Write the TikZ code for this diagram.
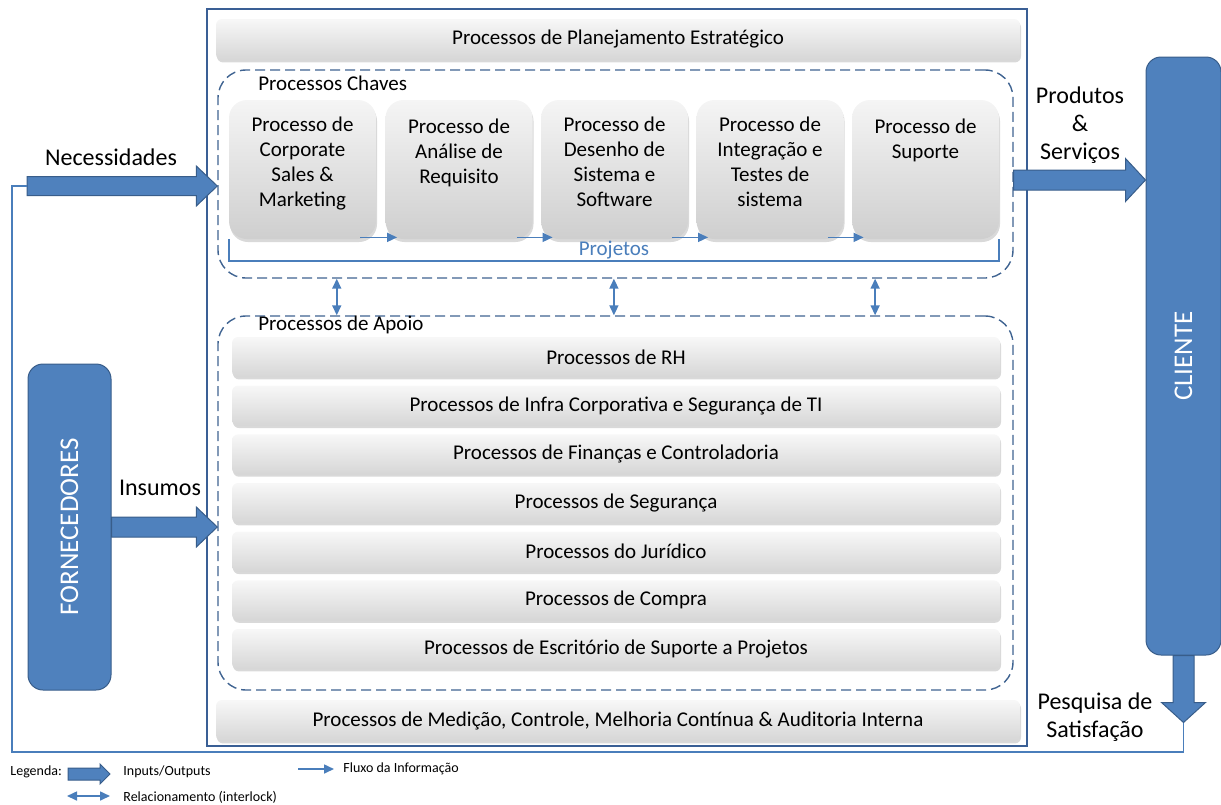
\documentclass[tikz,border=0pt]{standalone}
\usepackage{fontspec}
\setmainfont{Carlito}
\usetikzlibrary{arrows.meta,calc,shadows}

\definecolor{boxblue}{HTML}{4F81BD}
\definecolor{edgeblue}{HTML}{385D8A}
\definecolor{lineblue}{HTML}{4A7EBB}
\definecolor{dashblue}{HTML}{3F6391}
\definecolor{frameblue}{HTML}{3A5F95}

% fat block arrow pointing right: start, tip, half shaft, half head, head length
\newcommand{\bigarrowright}[5]{%
  \path[fatarrow] let \p1=#1, \p2=#2 in
    (\x1,\y1+#3) -- (\x2-#5,\y1+#3) -- (\x2-#5,\y1+#4) -- (\x2,\y1)
    -- (\x2-#5,\y1-#4) -- (\x2-#5,\y1-#3) -- (\x1,\y1-#3) -- cycle;}

\begin{document}
\begin{tikzpicture}[
    x=0.5pt, y=-0.5pt, % pixel grid of the slide
    >={Triangle[length=5pt,width=4.5pt]}, % arrow head style
    font=\fontsize{10.5}{12.5}\selectfont,
    fatarrow/.style={fill=boxblue, draw=edgeblue, line width=0.5pt},
    actor/.style={fill=boxblue, draw=edgeblue, line width=0.5pt,
        rounded corners=7.5pt, text=white, font=\fontsize{13.5}{15}\selectfont},
    group/.style={draw=dashblue, line width=0.7pt,
        dash pattern=on 5pt off 2.5pt, rounded corners=14pt},
    keybox/.style={rounded corners=9pt, top color=gray!8, bottom color=gray!38,
        minimum width=73.5pt, minimum height=69.5pt,
        drop shadow={shadow xshift=0.5pt, shadow yshift=-1.5pt, opacity=0.3}},
    procbar/.style={rounded corners=3pt, top color=gray!6, bottom color=gray!32,
        minimum height=20pt,
        drop shadow={shadow xshift=0.5pt, shadow yshift=-1.2pt, opacity=0.3}},
    flow/.style={lineblue, line width=0.8pt, ->},
    interlock/.style={lineblue, line width=0.8pt, <->},
    outlabel/.style={font=\fontsize{12}{14}\selectfont, align=center},
    legendtext/.style={font=\fontsize{7}{8}\selectfont, inner sep=1pt, anchor=west}
  ]
\useasboundingbox (0,0) rectangle (1221,804);

% organisation frame and process groups
\node[draw=frameblue, line width=0.8pt, minimum width=410pt, minimum height=368.5pt] (org) at (617,377.5) {};
\node[group, minimum width=397.5pt, minimum height=104pt] (chaves) at (615.5,174) {};
\node[group, minimum width=397.5pt, minimum height=187pt] (apoio) at (615.5,503) {};
\node[anchor=west] (chavesLbl) at ([xshift=17pt,yshift=-7pt]chaves.north west) {Processos Chaves};
\node[anchor=west] (apoioLbl) at ([xshift=17pt,yshift=-5pt]apoio.north west) {Processos de Apoio};

\node[procbar, minimum width=402pt, minimum height=20.5pt] (plan) at (618,39.5) {Processos de Planejamento Estratégico};
\node[procbar, minimum width=402pt, minimum height=20.5pt] (medicao) at (618,720.5) {Processos de Medição, Controle, Melhoria Contínua \& Auditoria Interna};

% key processes
\node[keybox, label={[anchor=north, yshift=-5pt, align=center]north:{Processo de\\Corporate\\Sales \&\\Marketing}}] (k1) at (302.5,169.5) {};
\node[keybox, label={[anchor=north, yshift=-6pt, align=center]north:{Processo de\\Análise de\\Requisito}}] (k2) at (459,169.5) {};
\node[keybox, label={[anchor=north, yshift=-5pt, align=center]north:{Processo de\\Desenho de\\Sistema e\\Software}}] (k3) at (614.5,169.5) {};
\node[keybox, label={[anchor=north, yshift=-5pt, align=center]north:{Processo de\\Integração e\\Testes de\\sistema}}] (k4) at (770,169.5) {};
\node[keybox, label={[anchor=north, yshift=-6pt, align=center]north:{Processo de\\Suporte}}] (k5) at (925.5,169.5) {};

\foreach \a/\b in {k1/k2,k2/k3,k3/k4,k4/k5}
  \draw[flow] ([xshift=-8pt,yshift=1pt]\a.south east) -- ([xshift=6pt,yshift=1pt]\b.south west);

\draw[lineblue, line width=1pt] (k1.south west) -- ++(0,22) coordinate (projL)
  -- (projL -| k5.south east) node[midway, above=-2.5pt, text=lineblue] (projLbl) {Projetos}
  -- (k5.south east);

% support processes
\foreach \txt [count=\i from 0] in {Processos de RH,
    Processos de Infra Corporativa e Segurança de TI,
    Processos de Finanças e Controladoria,
    Processos de Segurança,
    Processos do Jurídico,
    Processos de Compra,
    Processos de Escritório de Suporte a Projetos}
  \node[procbar, minimum width=384pt] (sup\i) at (616,{357+48.67*\i}) {\txt};

% interlock between key and support processes
\foreach \f in {0.15,0.498,0.826}
  \draw[interlock] ($(chaves.south west)!\f!(chaves.south east)$) coordinate (il)
    -- (il |- apoio.north);

% suppliers and client
\node[actor, minimum width=41.5pt, minimum height=163pt] (forn) at (69.5,527) {\rotatebox{90}{FORNECEDORES}};
\node[actor, minimum width=37.5pt, minimum height=299pt] (cliente) at (1183.5,356) {\rotatebox{90}{CLIENTE}};

\coordinate (needsIn) at (27,186);
\coordinate (prodOut) at ([yshift=-3pt]chaves.east);
\coordinate (satTip) at ([yshift=-33.5pt]cliente.south);
\coordinate (loopCorner) at (12,752);

\bigarrowright{(needsIn)}{(chaves.west |- needsIn)}{4.75pt}{10pt}{10.5pt}
\bigarrowright{(forn.east)}{(apoio.west |- forn.east)}{5pt}{10pt}{10.5pt}
\bigarrowright{(prodOut)}{(cliente.west |- prodOut)}{5pt}{10.75pt}{10pt}
\path[fatarrow] let \p1=(cliente.south), \p2=(satTip) in
  (\x1-5.25pt,\y1) -- (\x1-5.25pt,\y2+10pt) -- (\x1-11pt,\y2+10pt) -- (\x1,\y2)
  -- (\x1+11pt,\y2+10pt) -- (\x1+5.25pt,\y2+10pt) -- (\x1+5.25pt,\y1) -- cycle;

% feedback loop from client to needs
\draw[lineblue, line width=0.7pt] (satTip) -- (satTip |- loopCorner) -- (loopCorner)
  -- (loopCorner |- needsIn) -- (needsIn);

\node[outlabel] (needsLbl) at (111,157) {Necessidades};
\node[outlabel] (insLbl) at (160,488) {Insumos};
\node[outlabel] (prodLbl) at (1080,125) {Produtos\\\&\\Serviços};
\node[outlabel] (satLbl) at (1095,717) {Pesquisa de\\Satisfação};

% legend
\node[legendtext] (legLbl) at (8,772) {Legenda:};
\coordinate (legIO1) at (68,774);
\coordinate (legIO2) at (110,774);
\bigarrowright{(legIO1)}{(legIO2)}{3pt}{5pt}{5pt}
\node[legendtext] (legIO) at (121,772) {Inputs/Outputs};
\coordinate (legRel1) at (67,796);
\coordinate (legRel2) at (110,796);
\draw[interlock] (legRel1) -- (legRel2);
\node[legendtext] (legRel) at (121,797) {Relacionamento (interlock)};
\coordinate (legFlow1) at (298,769);
\coordinate (legFlow2) at (334,769);
\draw[flow] (legFlow1) -- (legFlow2);
\node[legendtext] (legFlow) at (341,769) {Fluxo da Informação};
\end{tikzpicture}
\end{document}
